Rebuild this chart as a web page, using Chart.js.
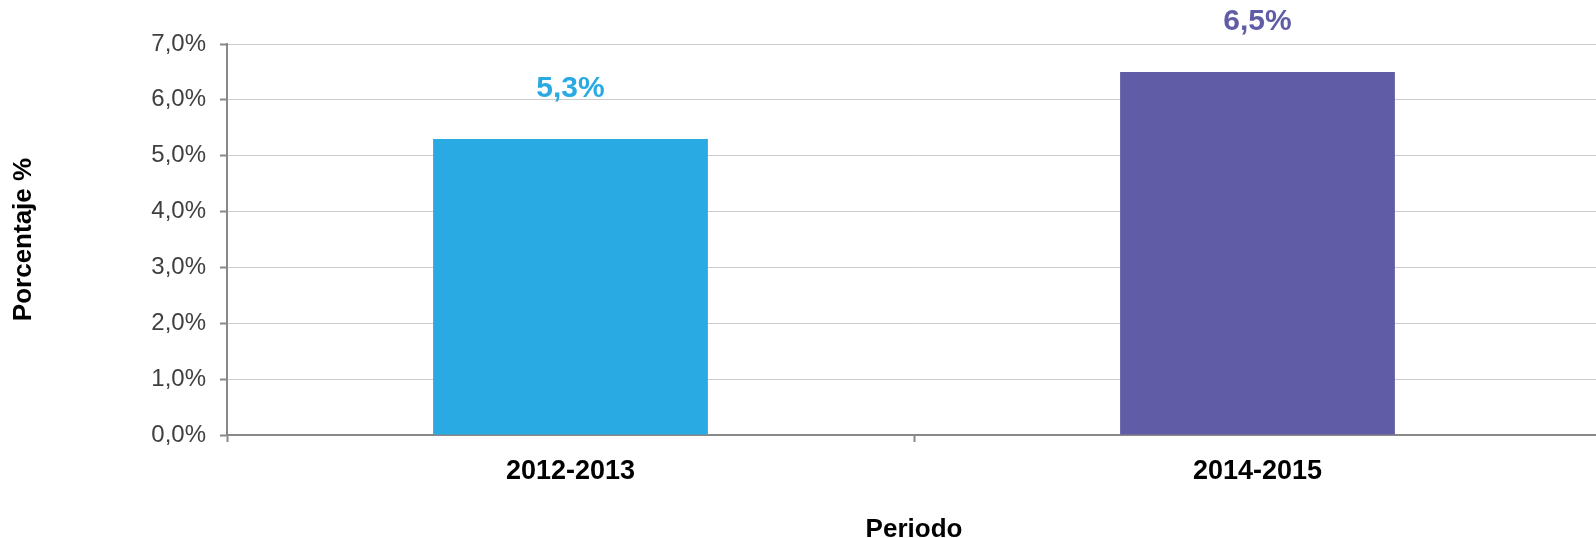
<!DOCTYPE html>
<html>
<head>
<meta charset="utf-8">
<script src="https://cdn.jsdelivr.net/npm/chart.js@4/dist/chart.umd.min.js"></script>
<style>
html,body{margin:0;padding:0;background:#fff;overflow:hidden;}
canvas{display:block;}
</style>
</head>
<body>
<canvas id="c" width="1601" height="538"></canvas>
<script>
const categories = ["2012-2013", "2014-2015"];
const values = [5.3, 6.5];
const barColors = ["#2AAAE2", "#605DA6"];
const yTicks = [0, 1, 2, 3, 4, 5, 6, 7];

const fmt = v => v.toFixed(1).replace('.', ',') + '%';
const FONT = "'Liberation Sans', Arial, sans-serif";

const labelPlugin = {
  id: 'barLabels',
  afterDatasetsDraw(chart) {
    const ctx = chart.ctx;
    const meta = chart.getDatasetMeta(0);
    ctx.save();
    ctx.font = "bold 30px " + FONT;
    ctx.textAlign = 'center';
    ctx.textBaseline = 'middle';
    meta.data.forEach((bar, i) => {
      ctx.fillStyle = barColors[i];
      ctx.fillText(fmt(values[i]), bar.x, bar.y - 50);
    });
    ctx.restore();
  }
};

new Chart(document.getElementById('c'), {
  type: 'bar',
  data: {
    labels: categories,
    datasets: [{
      data: values,
      backgroundColor: barColors,
      borderWidth: 0,
      barPercentage: 0.4,
      categoryPercentage: 1.0
    }]
  },
  options: {
    responsive: false,
    animation: false,
    events: [],
    layout: { padding: { top: 44, right: 0, left: 0, bottom: 0 } },
    plugins: { legend: { display: false }, tooltip: { enabled: false }, title: { display: false } },
    scales: {
      x: {
        offset: true,
        grid: { display: true, drawOnChartArea: false, offset: true, tickLength: 7, tickColor: '#888888', tickWidth: 2 },
        border: { display: true, color: '#888888', width: 2 },
        ticks: { color: '#000000', font: { family: FONT, size: 27, weight: 'bold' }, padding: 13 },
        title: { display: true, text: 'Periodo', color: '#000000', font: { family: FONT, size: 26, weight: 'bold', lineHeight: 0.6 }, padding: { top: 0, bottom: 0 } },
        afterFit: s => { s.height = 103; }
      },
      y: {
        min: 0, max: 7,
        afterBuildTicks: s => { s.ticks = yTicks.map(v => ({ value: v })); },
        grid: { color: '#CCCCCC', lineWidth: 1, tickLength: 7, tickColor: '#888888', tickWidth: 2 },
        border: { display: true, color: '#888888', width: 2 },
        ticks: { color: '#404040', font: { family: FONT, size: 24 }, padding: 14, callback: v => fmt(v) },
        title: { display: true, text: 'Porcentaje %', color: '#000000', font: { family: FONT, size: 26, weight: 'bold', lineHeight: 1.2 }, padding: { top: 8, bottom: 0 } },
        afterFit: s => { s.width = 227; }
      }
    }
  },
  plugins: [labelPlugin]
});
</script>
</body>
</html>
